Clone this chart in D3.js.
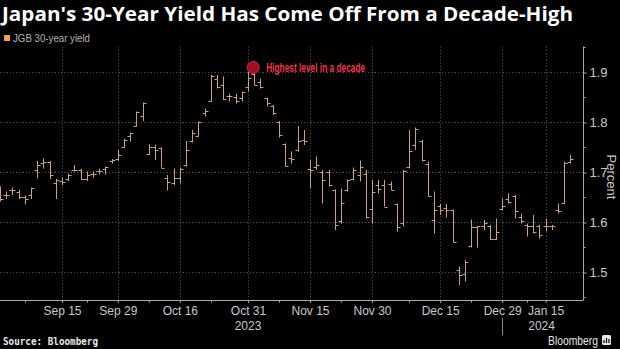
<!DOCTYPE html>
<html><head><meta charset="utf-8">
<script src="https://cdn.jsdelivr.net/npm/d3@7"></script>
<style>body{margin:0;background:#000;} svg{display:block;}</style>
</head><body><svg id="c" width="620" height="349"></svg>
<script>
const dates = ["2023-09-01","2023-09-04","2023-09-05","2023-09-06","2023-09-07","2023-09-08","2023-09-11","2023-09-12","2023-09-13","2023-09-14","2023-09-15","2023-09-19","2023-09-20","2023-09-21","2023-09-22","2023-09-25","2023-09-26","2023-09-27","2023-09-28","2023-09-29",
"2023-10-02","2023-10-03","2023-10-04","2023-10-05","2023-10-06","2023-10-10","2023-10-11","2023-10-12","2023-10-13","2023-10-16","2023-10-17","2023-10-18","2023-10-19","2023-10-20","2023-10-23","2023-10-24","2023-10-25","2023-10-26","2023-10-27","2023-10-30","2023-10-31",
"2023-11-01","2023-11-02","2023-11-06","2023-11-07","2023-11-08","2023-11-09","2023-11-10","2023-11-13","2023-11-14","2023-11-15","2023-11-16","2023-11-17","2023-11-20","2023-11-21","2023-11-22","2023-11-24","2023-11-27","2023-11-28","2023-11-29","2023-11-30",
"2023-12-01","2023-12-04","2023-12-05","2023-12-06","2023-12-07","2023-12-08","2023-12-11","2023-12-12","2023-12-13","2023-12-14","2023-12-15","2023-12-18","2023-12-19","2023-12-20","2023-12-21","2023-12-22","2023-12-25","2023-12-26","2023-12-27","2023-12-28","2023-12-29",
"2024-01-04","2024-01-05","2024-01-09","2024-01-10","2024-01-11","2024-01-12","2024-01-15","2024-01-16","2024-01-17","2024-01-18","2024-01-19"];

const open = [1.665,1.655,1.666,1.662,1.652,1.655,1.705,1.719,1.722,1.680,1.683,1.688,1.706,1.705,1.688,1.697,1.703,1.708,1.723,1.727,
1.752,1.772,1.792,1.812,1.737,1.750,1.748,1.690,1.680,1.690,
1.715,1.762,1.773,1.818,1.843,1.888,1.875,1.852,1.850,1.848,
1.870,1.898,1.882,1.848,1.832,1.800,1.756,1.730,1.745,1.765,
1.708,1.712,1.702,1.702,1.665,1.602,1.665,1.688,1.695,1.698,
1.628,1.675,1.675,1.677,1.638,1.598,1.712,1.755,1.762,1.718,
1.604,1.633,1.630,1.625,1.505,1.498,1.552,1.590,1.592,1.593,
1.567,1.627,1.648,1.653,1.610,1.595,1.592,1.592,1.592,1.592,
1.625,1.640,1.722];
const high = [1.672,1.662,1.670,1.666,1.654,1.670,1.723,1.728,1.723,1.687,1.690,1.698,1.715,1.707,1.702,1.702,1.708,1.712,1.727,1.745,
1.768,1.780,1.822,1.840,1.756,1.755,1.750,1.695,1.708,1.710,
1.763,1.785,1.802,1.828,1.895,1.895,1.892,1.858,1.858,1.862,
1.902,1.910,1.888,1.850,1.835,1.803,1.758,1.742,1.793,1.785,
1.725,1.732,1.705,1.705,1.666,1.668,1.686,1.710,1.724,1.705,
1.685,1.685,1.685,1.682,1.638,1.705,1.785,1.790,1.765,1.722,
1.662,1.637,1.637,1.626,1.512,1.525,1.606,1.592,1.605,1.595,
1.608,1.648,1.658,1.655,1.618,1.598,1.615,1.595,1.608,1.595,
1.638,1.722,1.735];
const low = [1.642,1.647,1.655,1.647,1.636,1.647,1.688,1.708,1.687,1.647,1.675,1.683,1.702,1.685,1.683,1.690,1.696,1.696,1.718,1.723,
1.750,1.762,1.792,1.803,1.735,1.725,1.710,1.664,1.675,1.678,
1.712,1.760,1.772,1.812,1.842,1.868,1.845,1.842,1.838,1.842,
1.862,1.875,1.868,1.832,1.815,1.770,1.712,1.718,1.742,1.755,
1.668,1.705,1.638,1.672,1.585,1.598,1.662,1.685,1.682,1.608,
1.598,1.658,1.632,1.665,1.582,1.592,1.708,1.745,1.722,1.652,
1.578,1.615,1.610,1.560,1.475,1.482,1.550,1.550,1.585,1.565,
1.565,1.625,1.638,1.608,1.598,1.572,1.578,1.568,1.582,1.585,
1.618,1.638,1.718];
const close = [1.648,1.655,1.665,1.652,1.648,1.670,1.715,1.722,1.696,1.685,1.682,1.695,1.706,1.688,1.695,1.697,1.704,1.711,1.725,1.736,
1.765,1.778,1.820,1.838,1.750,1.745,1.710,1.682,1.690,1.708,
1.745,1.778,1.800,1.822,1.893,1.870,1.847,1.852,1.843,1.860,
1.890,1.875,1.870,1.838,1.818,1.775,1.713,1.728,1.762,1.762,
1.706,1.715,1.686,1.675,1.595,1.640,1.685,1.705,1.712,1.610,
1.662,1.668,1.632,1.665,1.590,1.703,1.742,1.787,1.725,1.653,
1.624,1.625,1.625,1.560,1.495,1.522,1.590,1.592,1.598,1.567,
1.580,1.633,1.641,1.622,1.602,1.593,1.580,1.575,1.593,1.592,
1.622,1.720,1.728];

const yTicks = [1.5,1.6,1.7,1.8,1.9];
const yMinorTicks = [1.45,1.55,1.65,1.75,1.85,1.95];
const xTickDates = ["2023-09-15","2023-09-29","2023-10-16","2023-10-31","2023-11-15","2023-11-30","2023-12-15","2023-12-29","2024-01-15"];
const xTickLabels = ["Sep 15","Sep 29","Oct 16","Oct 31","Nov 15","Nov 30","Dec 15","Dec 29","Jan 15"];
const xMinorDates = ["2023-09-07","2023-09-22","2023-10-06","2023-10-23","2023-11-08","2023-11-22","2023-12-08","2023-12-22","2024-01-10"];
const yearDates = ["2023-10-31","2024-01-15"];
const yearLabels = ["2023","2024"];
const title = "Japan's 30-Year Yield Has Come Off From a Decade-High";
const seriesName = "JGB 30-year yield";
const annotationDate = "2023-11-01";
const annotationText = "Highest level in a decade";

const svg = d3.select("#c");
const W = 620, H = 349;
const plotL = 0, plotR = 583, plotT = 46.5, plotB = 300;
const barCol = "#cc9f88";
const gridCol = "#4d4d4d";
const axCol = "#a8a8a8";
const txtCol = "#c9c9c9";

svg.append("rect").attr("width",W).attr("height",H).attr("fill","#000");

const x = d3.scalePoint().domain(dates).range([0, 570.4]);
const y = d3.scaleLinear().domain([1.5,1.9]).range([272.5,72.5]);

// gridlines
const g = svg.append("g");
g.selectAll(".hg").data(yTicks).join("line")
  .attr("x1",plotL).attr("x2",plotR).attr("y1",d=>y(d)).attr("y2",d=>y(d))
  .attr("stroke",gridCol).attr("stroke-width",1).attr("stroke-dasharray","1.2,2").attr("shape-rendering","crispEdges");
g.selectAll(".vg").data(xTickDates).join("line")
  .attr("x1",d=>Math.round(x(d))+0.5).attr("x2",d=>Math.round(x(d))+0.5).attr("y1",plotT).attr("y2",plotB)
  .attr("stroke",gridCol).attr("stroke-width",1).attr("stroke-dasharray","1.2,2");

// y axis (right)
const yAxis = d3.axisRight(y).tickValues(yTicks).tickSize(3).tickPadding(3).tickFormat(d3.format(".1f"));
const ya = svg.append("g").attr("transform",`translate(${plotR+0.5},0)`).call(yAxis);
ya.select(".domain").remove();
ya.append("line").attr("x1",0).attr("x2",0).attr("y1",plotT).attr("y2",plotB).attr("stroke",axCol);
ya.selectAll(".tick line").attr("stroke",axCol);
ya.selectAll(".tick text").attr("fill",txtCol).style("font-family","'Liberation Sans',sans-serif").style("font-size","13px");
ya.selectAll(".minor").data(yMinorTicks).join("line").attr("class","minor")
  .attr("x1",0).attr("x2",2).attr("y1",d=>y(d)).attr("y2",d=>y(d)).attr("stroke",axCol);

svg.append("text").attr("transform",`translate(607,177) rotate(90)`)
  .attr("text-anchor","middle").attr("fill",txtCol)
  .style("font-family","'Liberation Sans',sans-serif").style("font-size","13px").text("Percent");

// x axis
const xAxis = d3.axisBottom(x).tickValues(xTickDates).tickSize(3).tickPadding(3).tickFormat((d,i)=>xTickLabels[i]);
const xa = svg.append("g").attr("transform",`translate(0,${plotB})`).call(xAxis);
xa.select(".domain").remove();
xa.append("line").attr("x1",0).attr("x2",plotR+0.5).attr("y1",0.5).attr("y2",0.5).attr("stroke",axCol);
xa.selectAll(".tick line").attr("stroke",axCol);
xa.selectAll(".tick text").attr("fill",txtCol).style("font-family","'Liberation Sans',sans-serif").style("font-size","12px");
xa.selectAll(".minor").data(xMinorDates).join("line").attr("class","minor")
  .attr("x1",d=>Math.round(x(d))+0.5).attr("x2",d=>Math.round(x(d))+0.5).attr("y1",0).attr("y2",2.5).attr("stroke",axCol);

svg.selectAll(".yr").data(yearDates).join("text").attr("class","yr")
  .attr("x",(d,i)=>x(d)-(i?4:0)).attr("y",330).attr("text-anchor","middle").attr("fill",txtCol)
  .style("font-family","'Liberation Sans',sans-serif").style("font-size","12px")
  .text((d,i)=>yearLabels[i]);
// year separator
const sepX = Math.round(x("2023-12-29"))+0.5;
svg.append("line").attr("x1",sepX).attr("x2",sepX).attr("y1",318).attr("y2",335).attr("stroke","#8a8a8a");

// OHLC bars
const idx = d3.range(dates.length);
const bars = svg.append("g").attr("stroke",barCol).attr("stroke-width",1);
bars.selectAll(".hl").data(idx).join("line")
  .attr("x1",i=>Math.round(x(dates[i]))+0.5).attr("x2",i=>Math.round(x(dates[i]))+0.5)
  .attr("y1",i=>y(high[i])).attr("y2",i=>y(low[i]));
bars.selectAll(".op").data(idx).join("line")
  .attr("x1",i=>Math.round(x(dates[i]))-2.5).attr("x2",i=>Math.round(x(dates[i]))+0.5)
  .attr("y1",i=>Math.round(y(open[i]))+0.5).attr("y2",i=>Math.round(y(open[i]))+0.5);
bars.selectAll(".cl").data(idx).join("line")
  .attr("x1",i=>Math.round(x(dates[i]))+0.5).attr("x2",i=>Math.round(x(dates[i]))+3.5)
  .attr("y1",i=>Math.round(y(close[i]))+0.5).attr("y2",i=>Math.round(y(close[i]))+0.5);

// annotation
const ai = dates.indexOf(annotationDate);
svg.append("circle").attr("cx",x(annotationDate)-1).attr("cy",y(high[ai])).attr("r",6)
  .attr("fill","#9e1028").attr("stroke","#d42a44").attr("stroke-width",1);
svg.append("text").attr("x",x(annotationDate)+12).attr("y",y(high[ai])+4.5)
  .attr("fill","#f0364f").style("font-family","'Liberation Sans',sans-serif").style("font-weight","700")
  .style("font-size","12px").attr("textLength",99).attr("lengthAdjust","spacingAndGlyphs").text(annotationText);

// title
svg.append("text").attr("x",2).attr("y",21).attr("fill","#fff")
  .style("font-family","'Open Sans',sans-serif").style("font-weight","700").style("font-size","19px")
  .attr("textLength",571).attr("lengthAdjust","spacingAndGlyphs").text(title);

// legend
svg.append("rect").attr("x",4).attr("y",35).attr("width",6).attr("height",6).attr("fill","#f5a14b");
svg.append("text").attr("x",13).attr("y",41.5).attr("fill","#b5b5b5")
  .style("font-family","'Liberation Sans',sans-serif").style("font-size","10.5px")
  .attr("textLength",77).attr("lengthAdjust","spacingAndGlyphs").text(seriesName);

// footer
svg.append("text").attr("x",3).attr("y",345).attr("fill","#e6e6e6")
  .style("font-family","'DejaVu Sans Mono',monospace").style("font-weight","700").style("font-size","10px")
  .attr("textLength",95).attr("lengthAdjust","spacingAndGlyphs").text("Source: Bloomberg");
svg.append("text").attr("x",548).attr("y",345).attr("fill","#e6e6e6")
  .style("font-family","'Liberation Sans',sans-serif").style("font-size","12px")
  .attr("textLength",50).attr("lengthAdjust","spacingAndGlyphs").text("Bloomberg");
svg.append("rect").attr("x",602).attr("y",335).attr("width",9).attr("height",10).attr("rx",1.5).attr("fill","#e6e6e6");
svg.append("path").attr("d","M604,343 v-3 M606.5,343 v-5 M609,343 v-4").attr("stroke","#000").attr("stroke-width",1.2);
</script></body></html>
